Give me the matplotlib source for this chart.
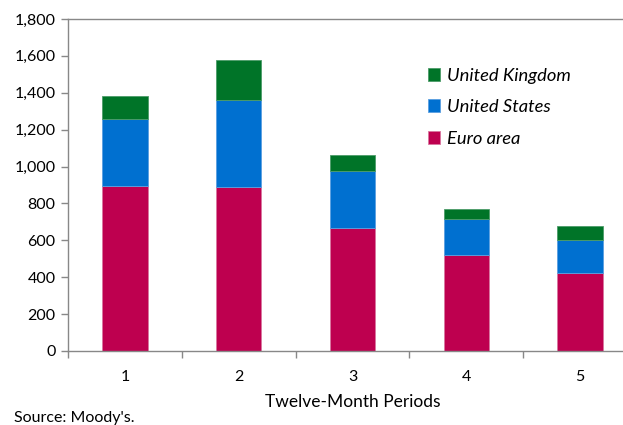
import matplotlib
matplotlib.use('Agg')
import matplotlib.pyplot as plt
import numpy as np

plt.rcParams['font.family'] = ['Lato', 'DejaVu Sans']

periods = [1, 2, 3, 4, 5]
euro_area = [895, 890, 668, 519, 421]
united_states = [363, 471, 306, 195, 179]
united_kingdom = [124, 219, 90, 56, 78]

c_euro = '#be004f'
c_us = '#0070d0'
c_uk = '#007428'

fig = plt.figure(figsize=(6.23, 4.25), dpi=100)
ax = fig.add_axes([68/623, 1-351/425, (637-68)/623, (351-19)/425])

x = np.array(periods)
w = 0.4
b1 = ax.bar(x, euro_area, w, color=c_euro, edgecolor='#d9779f', linewidth=0.6, label='Euro area')
b2 = ax.bar(x, united_states, w, bottom=euro_area, color=c_us, edgecolor='#5a9fe0', linewidth=0.6, label='United States')
bot = np.array(euro_area) + np.array(united_states)
b3 = ax.bar(x, united_kingdom, w, bottom=bot, color=c_uk, edgecolor='#4c9c68', linewidth=0.6, label='United Kingdom')

ax.set_xlim(0.5, 5.5)
ax.set_ylim(0, 1800)
ax.set_yticks(range(0, 1801, 200))
ax.set_yticklabels(['{:,}'.format(v) for v in range(0, 1801, 200)])
ax.set_xticks(x)
ax.set_xticklabels([str(p) for p in periods])
ax.set_xticks([0.5, 1.5, 2.5, 3.5, 4.5], minor=True)
ax.tick_params(axis='x', which='major', length=0, pad=14, labelsize=11.5)
ax.tick_params(axis='x', which='minor', length=5, color='#888888', width=1)
ax.tick_params(axis='y', length=5, color='#888888', width=1, labelsize=11.5, pad=4)

for s in ['left', 'top', 'bottom']:
    ax.spines[s].set_color('#888888')
    ax.spines[s].set_linewidth(1)
ax.spines['right'].set_visible(False)

ax.set_xlabel('Twelve-Month Periods', fontsize=12.5, labelpad=7)

leg = ax.legend([b3, b2, b1], ['United Kingdom', 'United States', 'Euro area'],
                loc='upper left', bbox_to_anchor=(411/623, 1-51/425),
                bbox_transform=fig.transFigure, frameon=False,
                prop={'style': 'italic', 'size': 13.2},
                handlelength=0.7, handleheight=0.7, handletextpad=0.35,
                labelspacing=0.85)

fig.text(14/623, 1-418/425, "Source: Moody's.", fontsize=11.5, va='center', ha='left')

fig.savefig('out.png', dpi=100)
